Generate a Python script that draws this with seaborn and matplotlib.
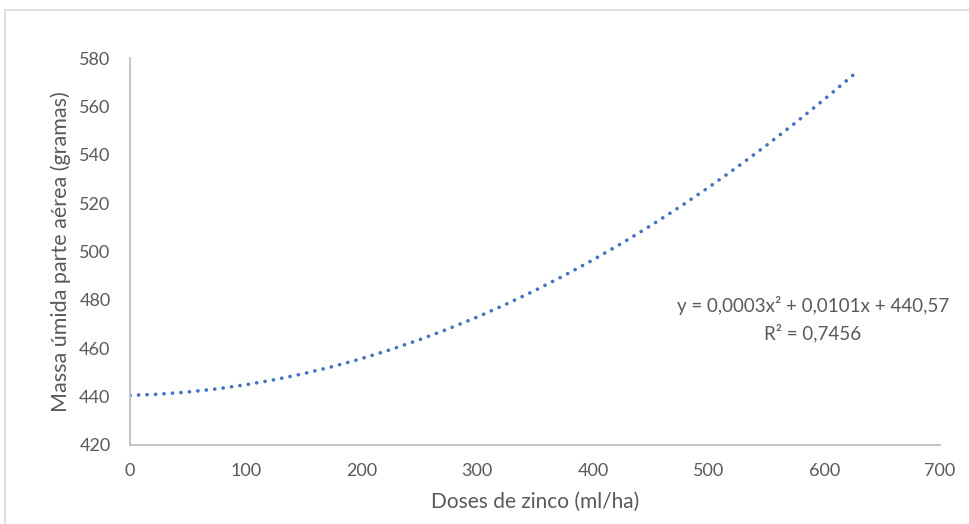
import matplotlib
matplotlib.use("Agg")
import matplotlib.pyplot as plt
import matplotlib.patches as patches
import seaborn as sns

# ========== DADOS ==========
doses = [0, 25, 50, 75, 100, 125, 150, 175, 200, 225, 250, 275, 300,
         325, 350, 375, 400, 425, 450, 475, 500, 525, 550, 575, 600, 625]
massa = [440.5, 441.0, 441.9, 443.2, 444.9, 447.0, 449.5, 452.4, 455.7,
         459.4, 463.5, 468.0, 472.9, 478.2, 483.9, 490.0, 496.5, 503.4,
         510.7, 518.4, 526.5, 535.0, 543.9, 553.2, 562.9, 573.0]

x_ticks = [0, 100, 200, 300, 400, 500, 600, 700]
y_ticks = [420, 440, 460, 480, 500, 520, 540, 560, 580]

equacao = "y = 0,0003x² + 0,0101x + 440,57"
r2 = "R² = 0,7456"

COR_LINHA = "#4472C4"
COR_TEXTO = "#595959"
COR_EIXO = "#BFBFBF"

# ========== ESTILO ==========
sns.set_style("white")
plt.rcParams['font.family'] = ['Lato', 'DejaVu Sans']

fig = plt.figure(figsize=(9.69, 5.24), dpi=100)
ax = fig.add_axes([0.1342, 0.1508, 0.8359, 0.7385])

# borda da área do gráfico
borda = patches.Rectangle((5 / 969, -0.05), 1.0, 1.05 - 10 / 524,
                          transform=fig.transFigure, fill=False,
                          edgecolor="#D9D9D9", linewidth=1.2, zorder=0)
fig.patches.append(borda)

# ========== LINHA DE TENDÊNCIA ==========
sns.lineplot(x=doses, y=massa, ax=ax, color=COR_LINHA, linewidth=2.6,
             linestyle=(0, (0.05, 2.3)), dash_capstyle='round')

ax.set_xlim(0, 700)
ax.set_ylim(420, 580)
ax.set_xticks(x_ticks)
ax.set_yticks(y_ticks)
ax.tick_params(axis='both', length=0, labelsize=13, labelcolor=COR_TEXTO)
ax.tick_params(axis='y', pad=14)
ax.tick_params(axis='x', pad=13)

for lado in ['top', 'right']:
    ax.spines[lado].set_visible(False)
for lado in ['left', 'bottom']:
    ax.spines[lado].set_color(COR_EIXO)
    ax.spines[lado].set_linewidth(1.3)

ax.set_xlabel("Doses de zinco (ml/ha)", fontsize=15, color=COR_TEXTO)
ax.set_ylabel("Massa úmida parte aérea (gramas)", fontsize=15.5, color=COR_TEXTO)
ax.xaxis.set_label_coords(0.5, -0.12)
ax.yaxis.set_label_coords(-0.073, 0.5)

# equação da tendência
ax.text(0.843, 0.361, equacao, transform=ax.transAxes, ha='center',
        va='center', fontsize=13.5, color=COR_TEXTO)
ax.text(0.843, 0.289, r2, transform=ax.transAxes, ha='center',
        va='center', fontsize=13.5, color=COR_TEXTO)

plt.savefig("out.png", dpi=100)
